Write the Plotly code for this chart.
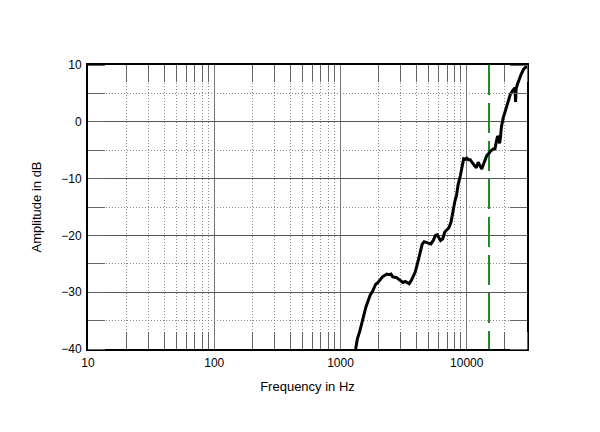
import plotly.graph_objects as go

# Frequency response data (Hz, dB)
freq_hz = [1318, 1360, 1420, 1490, 1550, 1590, 1650, 1720, 1790, 1840, 1900, 1960,
           2010, 2080, 2150, 2230, 2330, 2420, 2510, 2590, 2660, 2770, 2880, 3000,
           3120, 3250, 3380, 3500, 3660, 3900, 4150, 4280, 4430, 4600, 4780, 5000,
           5200, 5450, 5650, 5830, 6000, 6200, 6450, 6700, 6900, 7200, 7500, 7800,
           8050, 8300, 8550, 8900, 9200, 9450, 9750, 10000, 10300, 10650, 11050,
           11500, 11900, 12300, 12700, 13150, 13700, 14450, 15050, 15500, 16200,
           16700, 17300, 17550, 17850, 18200, 18500, 18800, 19400, 20300, 21100,
           22100, 23100, 23700, 24100, 24350, 24600, 25200, 26000, 27000, 28300,
           29500, 30000]
amp_db = [-40.0, -38.2, -36.9, -35.0, -33.1, -32.6, -31.6, -30.5, -29.9, -29.4, -28.6, -28.4,
          -28.0, -27.7, -27.3, -27.0, -26.8, -26.9, -26.8, -27.3, -27.3, -27.4, -27.7, -28.0,
          -28.3, -28.1, -28.3, -28.5, -27.8, -26.5, -24.2, -22.8, -21.6, -21.1, -21.2, -21.4,
          -21.5, -20.8, -20.0, -19.9, -20.5, -20.9, -20.6, -19.4, -19.1, -18.7, -17.7, -15.5,
          -14.0, -12.9, -11.0, -9.5, -7.9, -6.5, -6.6, -6.4, -6.7, -6.7, -7.2,
          -7.7, -8.1, -7.1, -7.6, -8.3, -7.2, -5.9, -5.5, -5.1, -4.8, -4.8,
          -3.1, -2.5, -2.8, -3.8, -2.7, -0.9, 0.6, 2.1, 3.6, 4.8, 5.5, 5.8, 6.0, 3.5,
          5.8, 6.6, 7.5, 8.4, 9.3, 9.6, 9.8]

marker_freq = [15000, 15000]
marker_db = [10, -40]

x_major = [10, 100, 1000, 10000]
x_minor = [m * d for d in (10, 100, 1000, 10000) for m in range(2, 10) if m * d <= 30000]
y_ticks = [-40, -30, -20, -10, 0, 10]

fig = go.Figure()
fig.add_trace(go.Scatter(x=marker_freq, y=marker_db, mode="lines",
                         line=dict(color="#1e8c1e", width=2, dash="30px,8px"),
                         hoverinfo="skip", showlegend=False))
fig.add_trace(go.Scatter(x=freq_hz, y=amp_db, mode="lines",
                         line=dict(color="black", width=3),
                         showlegend=False))

font = dict(family="Liberation Sans, Arial, sans-serif", size=12, color="black")

fig.update_layout(
    width=600, height=432,
    margin=dict(l=88, r=73, t=65, b=83),
    paper_bgcolor="white", plot_bgcolor="white",
    font=font,
    xaxis=dict(
        type="log", range=[1, 4.4771],
        tickmode="array", tickvals=x_major, ticktext=[str(v) for v in x_major],
        ticks="", showgrid=True, gridcolor="#777", gridwidth=1,
        showline=True, linecolor="black", linewidth=2, mirror="allticks",
        minor=dict(tickmode="array", tickvals=x_minor, ticks="inside", ticklen=17,
                   tickcolor="#666", tickwidth=1, showgrid=True,
                   gridcolor="#888", griddash="1px,2px", gridwidth=1),
        title=dict(text="Frequency in Hz", font=dict(size=13), standoff=12),
        zeroline=False, tickfont=dict(size=12), ticklabelstandoff=2,
    ),
    yaxis=dict(
        range=[-40, 10], tickmode="array", tickvals=y_ticks,
        ticks="", showgrid=True, gridcolor="#555", gridwidth=1,
        showline=True, linecolor="black", linewidth=2, mirror="allticks",
        minor=dict(dtick=5, ticks="inside", ticklen=17, tickcolor="#666",
                   tickwidth=1, showgrid=True, gridcolor="#888",
                   griddash="1px,2px", gridwidth=1),
        title=dict(text="Amplitude in dB", font=dict(size=13), standoff=17),
        zeroline=False, tickfont=dict(size=12), ticklabelstandoff=2,
    ),
)

fig.write_html("out.html")
